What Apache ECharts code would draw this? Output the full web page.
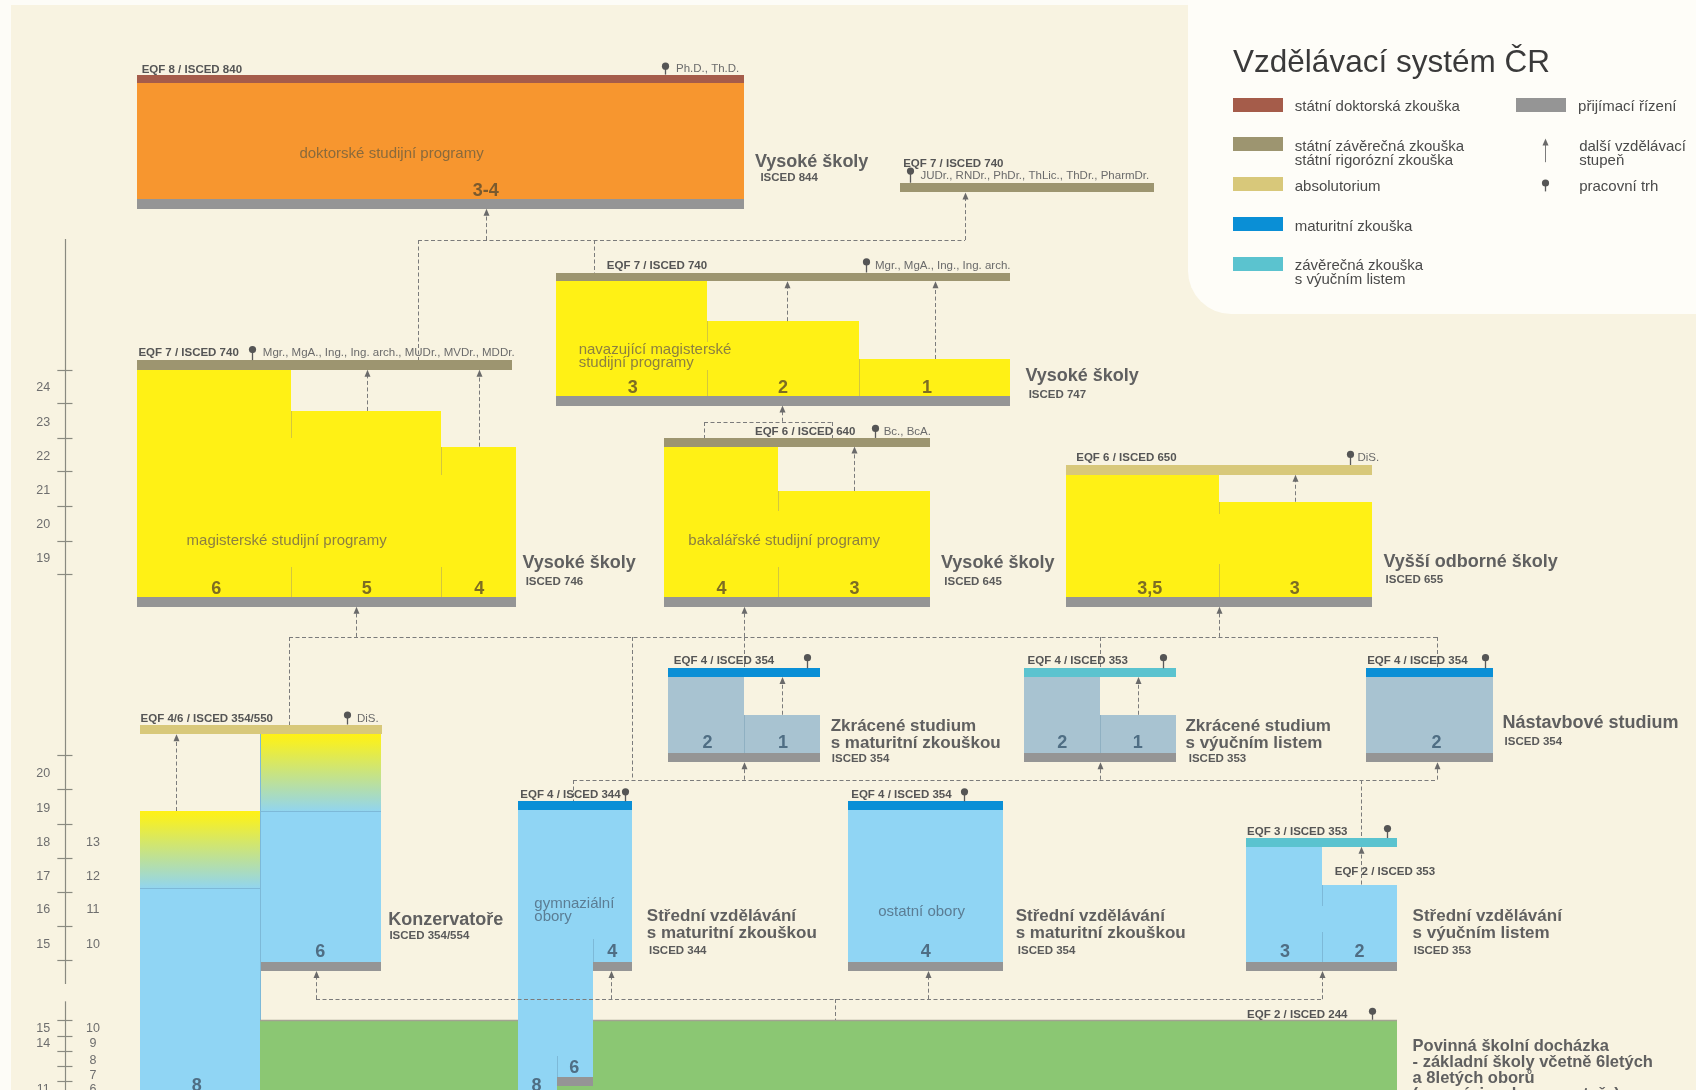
<!DOCTYPE html>
<html><head><meta charset="utf-8">
<script src="https://cdn.jsdelivr.net/npm/echarts@6/dist/echarts.min.js"></script>
<style>html,body{margin:0;padding:0;background:#fdfcf7}#c{width:1696px;height:1090px}</style>
</head><body><div id="c"></div>
<script>
// ---------- DATA (diagram units: 1568 x 1008 schematic space) ----------
const panels = [[10,5,1568,1008,'cream',0],[1098,0,1568,290,'panel',40]];

const rects = [
 // doktorské
 [127,69,688,77,'brown'],[127,77,688,184,'orange'],[127,184,688,193,'gray'],
 [832,169,1067,178,'olive'],
 // navazující magisterské
 [514,252,934,260,'olive'],[514,260,654,366,'yellow'],[654,297,794,366,'yellow'],[794,332,934,366,'yellow'],[514,366,934,375,'gray'],
 // magisterské
 [127,333,473,342,'olive'],[127,342,269,552,'yellow'],[269,380,408,552,'yellow'],[408,413,477,552,'yellow'],[127,552,477,561,'gray'],
 // bakalářské
 [614,405,860,413,'olive'],[614,413,719,552,'yellow'],[719,454,860,552,'yellow'],[614,552,860,561,'gray'],
 // VOŠ
 [986,430,1268,439,'khaki'],[986,439,1127,552,'yellow'],[1127,464,1268,552,'yellow'],[986,552,1268,561,'gray'],
 // zkrácené – maturita
 [618,618,758,626,'blue'],[618,626,688,696,'grayblue'],[688,661,758,696,'grayblue'],[618,696,758,705,'gray'],
 // zkrácené – výuční list
 [947,618,1087,626,'teal'],[947,626,1017,696,'grayblue'],[1017,661,1087,696,'grayblue'],[947,696,1087,705,'gray'],
 // nástavbové
 [1263,618,1380,626,'blue'],[1263,626,1380,696,'grayblue'],[1263,696,1380,705,'gray'],
 // povinná docházka
 [240,943,1292,1008,'green'],
 // konzervatoře
 [129,670,353,679,'khaki'],[129,750,240,821,'grad'],[129,821,240,1008,'lightblue'],[240,679,352,750,'grad'],[240,750,352,890,'lightblue'],[240,890,352,898,'gray'],
 // gymnázium
 [479,741,584,749,'blue'],[479,749,584,890,'lightblue'],[479,890,548,996,'lightblue'],[479,996,515,1008,'lightblue'],[548,890,584,898,'gray'],[515,996,548,1004,'gray'],
 // ostatní obory
 [784,741,927,749,'blue'],[784,749,927,890,'lightblue'],[784,890,927,898,'gray'],
 // výuční list
 [1152,775,1292,783,'teal'],[1152,783,1222,890,'lightblue'],[1222,818,1292,890,'lightblue'],[1152,890,1292,898,'gray']
];

const dividers = [
 [654,297,654,316,'ydiv'],[654,342,654,366,'ydiv'],[794,332,794,366,'ydiv'],
 [269,380,269,405,'ydiv'],[269,524,269,552,'ydiv'],[408,413,408,439,'ydiv'],[408,524,408,552,'ydiv'],
 [719,454,719,473,'ydiv'],[719,524,719,552,'ydiv'],
 [1127,464,1127,475,'ydiv'],[1127,522,1127,552,'ydiv'],
 [688,661,688,696,'gdiv'],[1017,661,1017,696,'gdiv'],
 [1222,818,1222,838,'bdiv'],[1222,862,1222,890,'bdiv'],
 [548,868,548,890,'bdiv'],[515,977,515,996,'bdiv'],
 [129,821,240,821,'bdiv'],[240,750,352,750,'bdiv'],[240,679,240,943,'bdiv'],
 [240,943,479,943,'gline'],[548,943,1292,943,'gline']
];

const dashes = [
 [386,222,892,222],[386,222,386,333],[549,222,549,252],
 [651,390,769,390],[651,390,651,405],[769,390,769,405],
 [267,589,1329,589],[267,589,267,670],[584,589,584,721],[688,589,688,618],[1017,589,1017,618],[1329,589,1329,618],
 [530,721,1329,721],[530,721,530,741],[1258,721,1258,775],
 [292,924,1222,924],[772,924,772,943]
];

// [x, from, to] – upward arrows
const arrows = [
 [449,222,193],[892,222,178],[728,297,260],[864,332,260],[339,380,342],[443,413,342],
 [723,390,375],[790,454,413],[1197,464,439],
 [329,589,561],[688,589,561],[1127,589,561],
 [723,661,626],[1052,661,626],[163,750,679],
 [688,721,705],[1017,721,705],[1329,721,705],[1258,818,783],
 [292,924,898],[565,924,898],[858,924,898],[1222,924,898]
];

// [x, top, bottom] – labour market pins
const pins = [
 [615,58,69],[841,155,169],[801,239,252],[233,320,333],[809,393,405],[1248,417,430],
 [321,658,670],[746,605,618],[1075,605,618],[1373,605,618],[578,729,741],[891,729,741],
 [1282,763,775],[1268,932,943]
];

// age / grade scale
const axisLines = [[60,221,910],[60,926,1008]];
const axisTicks = [342,373,405,436,468,500,531,698,730,762,793,825,856,888,943,958,972,986,1000];
const ageLabels = [['24',357],['23',389],['22',421],['21',452],['20',484],['19',515],
 ['20',714],['19',746],['18',778],['17',809],['16',840],['15',872],['15',950],['14',964],['11',1006]];
const gradeLabels = [['13',778],['12',809],['11',840],['10',872],['10',950],['9',964],['8',979],['7',993],['6',1006]];

const texts = [
 [131,63,'EQF 8 / ISCED 840','eqf'],[835,150,'EQF 7 / ISCED 740','eqf'],[561,244,'EQF 7 / ISCED 740','eqf'],
 [128,325,'EQF 7 / ISCED 740','eqf'],[698,398,'EQF 6 / ISCED 640','eqf'],[995,422,'EQF 6 / ISCED 650','eqf'],
 [623,610,'EQF 4 / ISCED 354','eqf'],[950,610,'EQF 4 / ISCED 353','eqf'],[1264,610,'EQF 4 / ISCED 354','eqf'],
 [130,663,'EQF 4/6 / ISCED 354/550','eqf'],[481,734,'EQF 4 / ISCED 344','eqf'],[787,734,'EQF 4 / ISCED 354','eqf'],
 [1153,768,'EQF 3 / ISCED 353','eqf'],[1234,805,'EQF 2 / ISCED 353','eqf'],[1153,937,'EQF 2 / ISCED 244','eqf'],
 [625,62,'Ph.D., Th.D.','deg'],[851,161,'JUDr., RNDr., PhDr., ThLic., ThDr., PharmDr.','deg'],
 [809,244,'Mgr., MgA., Ing., Ing. arch.','deg'],[243,325,'Mgr., MgA., Ing., Ing. arch., MUDr., MVDr., MDDr.','deg'],
 [817,398,'Bc., BcA.','deg'],[1255,422,'DiS.','deg'],[330,663,'DiS.','deg'],
 [698,148,'Vysoké školy','school'],[703,163,'ISCED 844','isced'],
 [948,346,'Vysoké školy','school'],[951,364,'ISCED 747','isced'],
 [483,519,'Vysoké školy','school'],[486,537,'ISCED 746','isced'],
 [870,519,'Vysoké školy','school'],[873,537,'ISCED 645','isced'],
 [1279,518,'Vyšší odborné školy','school'],[1281,535,'ISCED 655','isced'],
 [768,678,'Zkrácené studium\ns maturitní zkouškou','school2'],[769,700,'ISCED 354','isced'],
 [1096,678,'Zkrácené studium\ns výučním listem','school2'],[1099,700,'ISCED 353','isced'],
 [1389,667,'Nástavbové studium','school'],[1391,685,'ISCED 354','isced'],
 [359,849,'Konzervatoře','school'],[360,864,'ISCED 354/554','isced'],
 [598,854,'Střední vzdělávání\ns maturitní zkouškou','school2'],[600,878,'ISCED 344','isced'],
 [939,854,'Střední vzdělávání\ns maturitní zkouškou','school2'],[941,878,'ISCED 354','isced'],
 [1306,854,'Střední vzdělávání\ns výučním listem','school2'],[1307,878,'ISCED 353','isced'],
 [1306,958.5,'Povinná školní docházka\n- základní školy včetně 6letých\na 8letých oborů\n(gymnázia a konzervatoře)','pov'],
 [362,141,'doktorské studijní programy','capO'],
 [535,328,'navazující magisterské\nstudijní programy','capY2'],
 [265,499,'magisterské studijní programy','capY'],
 [725,499,'bakalářské studijní programy','capY'],
 [494,840,'gymnaziální\nobory','capB2'],
 [852,842,'ostatní obory','capB'],
 [449,175,'3-4','numO'],
 [585,357,'3','numY'],[724,357,'2','numY'],[857,357,'1','numY'],
 [200,543,'6','numY'],[339,543,'5','numY'],[443,543,'4','numY'],
 [667,543,'4','numY'],[790,543,'3','numY'],
 [1063,543,'3,5','numY'],[1197,543,'3','numY'],
 [654,686,'2','numB'],[724,686,'1','numB'],[982,686,'2','numB'],[1052,686,'1','numB'],[1328,686,'2','numB'],
 [296,879,'6','numB'],[182,1003,'8','numB'],
 [566,879,'4','numB'],[531,986,'6','numB'],[496,1003,'8','numB'],
 [856,879,'4','numB'],[1188,879,'3','numB'],[1257,879,'2','numB'],
 [1140,57,'Vzdělávací systém ČR','title']
];

// legend: [x, swatchY, labelY, colour, label]
const legendItems = [
 [1140,97.5,97,'brown','státní doktorská zkouška'],
 [1140,133.5,140.5,'olive','státní závěrečná zkouška\nstátní rigorózní zkouška'],
 [1140,170.5,171,'khaki','absolutorium'],
 [1140,207.5,208,'blue','maturitní zkouška'],
 [1140,244.5,250.5,'teal','závěrečná zkouška\ns výučním listem'],
 [1402,97.5,97,'gray','přijímací řízení']
];
const legendArrow = [[1428,150,128,'další vzdělávací\nstupeň',140.5]];
const legendPin = [[1428,166,177,'pracovní trh',171]];

// ---------- STYLE ----------
const S = 1696/1568;
const TEXT_SHIFT = 1.6;
const FONT = '"Liberation Sans", Arial, Helvetica, sans-serif';
const palette = {cream:'#f8f3e1',panel:'#fefdf8',brown:'#a55c4a',orange:'#f7962f',gray:'#959595',olive:'#9d9570',
 khaki:'#d8c87a',yellow:'#fff115',blue:'#0a8fd6',teal:'#5bc3cf',lightblue:'#90d5f4',grayblue:'#a8c3d1',green:'#8bc773',
 ydiv:'#d3c73c',gdiv:'#8fb0c2',bdiv:'#7db9d8',gline:'#a3a392'};
const dashColor = '#7b7b7b';
const styles = {
 eqf:{size:11.5,weight:'bold',color:'#555555',align:'left'},
 deg:{size:11.5,weight:'normal',color:'#6b6b6b',align:'left'},
 school:{size:18,weight:'bold',color:'#606060',align:'left'},
 school2:{size:17,weight:'bold',color:'#606060',align:'left',lh:17},
 isced:{size:11.5,weight:'bold',color:'#5a5a5a',align:'left'},
 capO:{size:15,weight:'normal',color:'#8a6a3c',align:'center'},
 capY:{size:15,weight:'normal',color:'#8d8040',align:'center'},
 capY2:{size:15,weight:'normal',color:'#8d8040',align:'left',lh:13},
 capB:{size:15,weight:'normal',color:'#5b7d94',align:'center'},
 capB2:{size:15,weight:'normal',color:'#5b7d94',align:'left',lh:13},
 numO:{size:18,weight:'bold',color:'#7a5a2e',align:'center'},
 numY:{size:18,weight:'bold',color:'#7d6d23',align:'center'},
 numB:{size:18,weight:'bold',color:'#4f6e84',align:'center'},
 pov:{size:16.5,weight:'bold',color:'#606060',align:'left',lh:16,va:'top'},
 title:{size:31.5,weight:'normal',color:'#3a3a3a',align:'left'},
 leg:{size:15,weight:'normal',color:'#4a4a4a',align:'left',lh:14},
 axis:{size:12.5,weight:'normal',color:'#6e6e6e',align:'center'}
};

function textEl(p, str, key) {
 const st = styles[key];
 const s = {text:str, fill:st.color, font:st.weight+' '+st.size+'px '+FONT,
   align:st.align, verticalAlign:st.va||'middle', textAlign:st.align, textVerticalAlign:st.va||'middle'};
 if (st.lh) s.lineHeight = st.lh;
 return {type:'text', x:p[0], y:p[1] + TEXT_SHIFT, style:s};
}
function rectShape(api, x0, y0, x1, y1) {
 const a = api.coord([x0,y0]), b = api.coord([x1,y1]);
 const X = Math.round(a[0]), Y = Math.round(a[1]);
 return {x:X, y:Y, width:Math.round(b[0])-X, height:Math.round(b[1])-Y};
}
function fillOf(key) {
 if (key === 'grad') return new echarts.graphic.LinearGradient(0,0,0,1,[{offset:0,color:'#fff115'},{offset:0.12,color:'#f4ef2a'},{offset:1,color:'#92d5ee'}]);
 return palette[key];
}
function arrowEls(api, x, from, to, dashed) {
 const a = api.coord([x,from]), b = api.coord([x,to]);
 const px = Math.round(a[0]) + 0.5;
 return [
  {type:'line', shape:{x1:px,y1:a[1],x2:px,y2:b[1]+6}, style:{stroke:dashColor,lineWidth:1,lineDash:dashed?[4,2.5]:null}},
  {type:'polygon', shape:{points:[[px,b[1]],[px-3,b[1]+7],[px+3,b[1]+7]]}, style:{fill:'#6a6a6a'}}
 ];
}
function pinEls(api, x, top, bottom) {
 const a = api.coord([x,top]), b = api.coord([x,bottom]);
 const px = Math.round(a[0]) + 0.5;
 return [
  {type:'line', shape:{x1:px,y1:a[1]+3,x2:px,y2:b[1]}, style:{stroke:'#5a5a5a',lineWidth:1.3}},
  {type:'circle', shape:{cx:px,cy:a[1]+3.5,r:3.6}, style:{fill:'#555555'}}
 ];
}

function mk(arr, fn) {
 return {type:'custom', coordinateSystem:'cartesian2d', silent:true, animation:false, clip:false,
   data: arr.map(d => [d[0], d[1]]),
   renderItem: (params, api) => fn(arr[params.dataIndex], api)};
}

const series = [
 mk(panels, (d, api) => {
   const sh = rectShape(api, d[0], d[1], d[2], d[3]);
   sh.r = [0,0,0,d[5]*S];
   return {type:'rect', shape:sh, style:{fill:palette[d[4]]}};
 }),
 mk(rects, (d, api) => ({type:'rect', shape:rectShape(api,d[0],d[1],d[2],d[3]), style:{fill:fillOf(d[4])}})),
 mk(dividers, (d, api) => {
   const a = api.coord([d[0],d[1]]), b = api.coord([d[2],d[3]]);
   const v = d[0]===d[2];
   const x1 = Math.round(a[0]) + (v?0.5:0), y1 = Math.round(a[1]) + (v?0:0.5);
   const x2 = Math.round(b[0]) + (v?0.5:0), y2 = Math.round(b[1]) + (v?0:0.5);
   return {type:'line', shape:{x1,y1,x2,y2},
     style:{stroke:palette[d[4]], lineWidth:d[4]==='gline'?1.5:1}};
 }),
 mk(dashes, (d, api) => {
   const a = api.coord([d[0],d[1]]), b = api.coord([d[2],d[3]]);
   const h = d[1]===d[3];
   const x1 = Math.round(a[0]) + (h?0:0.5), y1 = Math.round(a[1]) + (h?0.5:0);
   const x2 = Math.round(b[0]) + (h?0:0.5), y2 = Math.round(b[1]) + (h?0.5:0);
   return {type:'line', shape:{x1,y1,x2,y2}, style:{stroke:dashColor, lineWidth:1, lineDash:[4,2.5]}};
 }),
 mk(arrows, (d, api) => ({type:'group', children: arrowEls(api, d[0], d[1], d[2], true)})),
 mk(pins, (d, api) => ({type:'group', children: pinEls(api, d[0], d[1], d[2])})),
 mk(axisLines, (d, api) => {
   const a = api.coord([d[0],d[1]]), b = api.coord([d[0],d[2]]);
   const px = Math.round(a[0]) + 0.5;
   return {type:'line', shape:{x1:px,y1:a[1],x2:px,y2:b[1]}, style:{stroke:'#8a8a80',lineWidth:1.2}};
 }),
 mk(axisTicks.map(y => [53, y]), (d, api) => {
   const a = api.coord([d[0],d[1]]), b = api.coord([d[0]+14,d[1]]);
   const py = Math.round(a[1]) + 0.5;
   return {type:'line', shape:{x1:a[0],y1:py,x2:b[0],y2:py}, style:{stroke:'#8a8a80',lineWidth:1.2}};
 }),
 mk(ageLabels.map(d => [40, d[1], d[0]]), (d, api) => textEl(api.coord([d[0],d[1]]), d[2], 'axis')),
 mk(gradeLabels.map(d => [86, d[1], d[0]]), (d, api) => textEl(api.coord([d[0],d[1]]), d[2], 'axis')),
 mk(legendItems, (d, api) => ({type:'group', children:[
   {type:'rect', shape:rectShape(api, d[0], d[1]-6.5, d[0]+46, d[1]+6.5), style:{fill:palette[d[3]]}},
   textEl(api.coord([d[0]+57, d[2]]), d[4], 'leg')
 ]})),
 mk(legendArrow, (d, api) => ({type:'group', children: arrowEls(api, d[0], d[1], d[2], false).concat([textEl(api.coord([d[0]+32, d[4]]), d[3], 'leg')])})),
 mk(legendPin, (d, api) => ({type:'group', children: pinEls(api, d[0], d[1], d[2]).concat([textEl(api.coord([d[0]+32, d[4]]), d[3], 'leg')])})),
 mk(texts, (d, api) => textEl(api.coord([d[0],d[1]]), d[2], d[3]))
];

const chart = echarts.init(document.getElementById('c'));
chart.setOption({
 backgroundColor:'#fdfcf7',
 animation:false,
 grid:{left:0,right:0,top:0,bottom:0,containLabel:false},
 xAxis:{type:'value',min:0,max:1568,show:false},
 yAxis:{type:'value',min:0,max:1008,inverse:true,show:false},
 series: series
});
</script></body></html>
